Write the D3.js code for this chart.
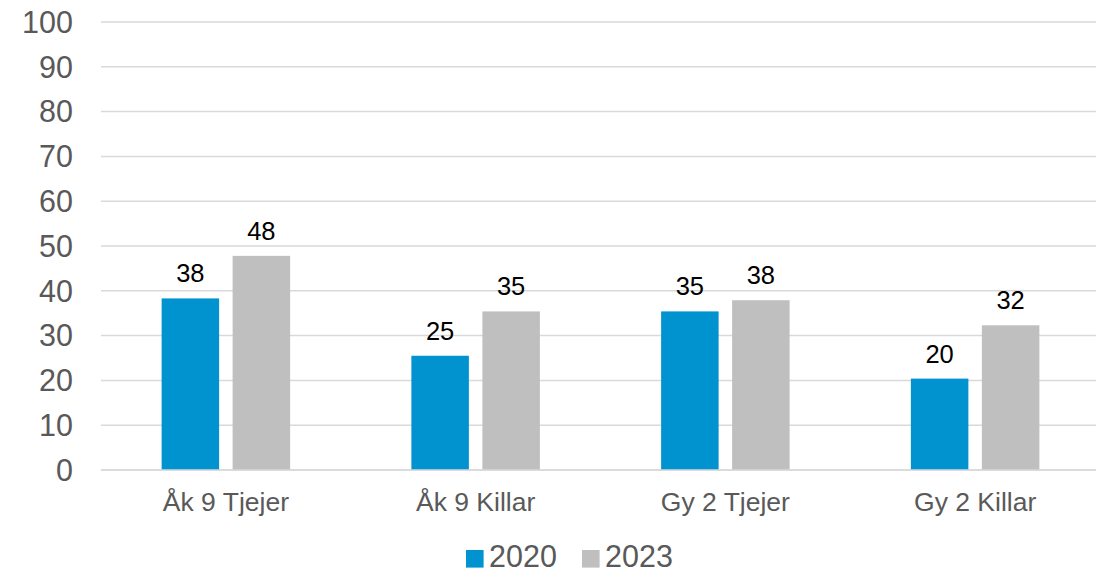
<!DOCTYPE html>
<html><head><meta charset="utf-8">
<script src="https://cdn.jsdelivr.net/npm/d3@7"></script>
<style>body{margin:0;background:#fff;} svg{display:block;font-family:"Liberation Sans",Arial,sans-serif;}</style>
</head><body>
<svg id="c" width="1104" height="573"></svg>
<script>
const categories = ["Åk 9 Tjejer","Åk 9 Killar","Gy 2 Tjejer","Gy 2 Killar"];
const seriesNames = ["2020","2023"];
const values2020 = [38.3,25.5,35.4,20.4];
const values2023 = [47.8,35.4,37.9,32.3];
const labels2020 = ["38","25","35","20"];
const labels2023 = ["48","35","38","32"];
const yTicks = [0,10,20,30,40,50,60,70,80,90,100];
const colors = ["#0093D0","#BFBFBF"];

(function(){
const svg = d3.select("#c");
const pL=101, pR=1100, pT=22, pB=470;
const x = d3.scaleBand().domain(categories).range([pL,pR]).paddingInner(0).paddingOuter(0);
const y = d3.scaleLinear().domain([0,100]).range([pB,pT]);
const barW = 57.5, gap = 13.5;

// grid
svg.append("g").selectAll("line").data(yTicks).join("line")
  .attr("x1",pL).attr("x2",pR-4)
  .attr("y1",d=>y(d)).attr("y2",d=>y(d))
  .attr("stroke","#D9D9D9").attr("stroke-width",1.5);

// y labels
const yAxis = d3.axisLeft(y).tickValues(yTicks).tickSize(0).tickPadding(0);
const ga = svg.append("g").attr("transform",`translate(73,0)`).call(yAxis);
ga.select(".domain").remove();
ga.selectAll("text").attr("font-size",30.5).attr("fill","#595959")
  .attr("font-family","'Liberation Sans',Arial,sans-serif").attr("dy","0.34em");

const series = [values2020, values2023];
const labs = [labels2020, labels2023];
series.forEach((vals,si)=>{
  const g = svg.append("g");
  const off = (x.bandwidth() - (2*barW+gap))/2;
  const bx = (c)=> x(c) + off + si*(barW+gap);
  g.selectAll("rect").data(categories).join("rect")
    .attr("x",c=>bx(c)).attr("width",barW)
    .attr("y",(c,i)=>y(vals[i])).attr("height",(c,i)=>pB-y(vals[i]))
    .attr("fill",colors[si]);
  g.selectAll("text").data(categories).join("text")
    .attr("x",c=>bx(c)+barW/2).attr("y",(c,i)=>y(vals[i])-16)
    .attr("text-anchor","middle").attr("font-size",25.5).attr("fill","#000")
    .text((c,i)=>labs[si][i]);
});

// baseline
svg.append("line").attr("x1",pL).attr("x2",pR-4).attr("y1",pB).attr("y2",pB)
  .attr("stroke","#D9D9D9").attr("stroke-width",1.5);

// x labels
const xAxis = d3.axisBottom(x).tickSize(0).tickPadding(0);
const gx = svg.append("g").attr("transform",`translate(0,${pB})`).call(xAxis);
gx.select(".domain").remove();
gx.selectAll("text").attr("font-size",26.5).attr("fill","#595959")
  .attr("font-family","'Liberation Sans',Arial,sans-serif").attr("dy",0).attr("y",40.5);

// legend
const leg = svg.append("g");
const lx = [466, 582];
seriesNames.forEach((s,i)=>{
  leg.append("rect").attr("x",lx[i]).attr("y",550).attr("width",17.6).attr("height",17.6).attr("fill",colors[i]);
  leg.append("text").attr("x",lx[i]+23).attr("y",566.5).attr("font-size",30.5).attr("fill","#595959").text(s);
});
})();
</script>
</body></html>
